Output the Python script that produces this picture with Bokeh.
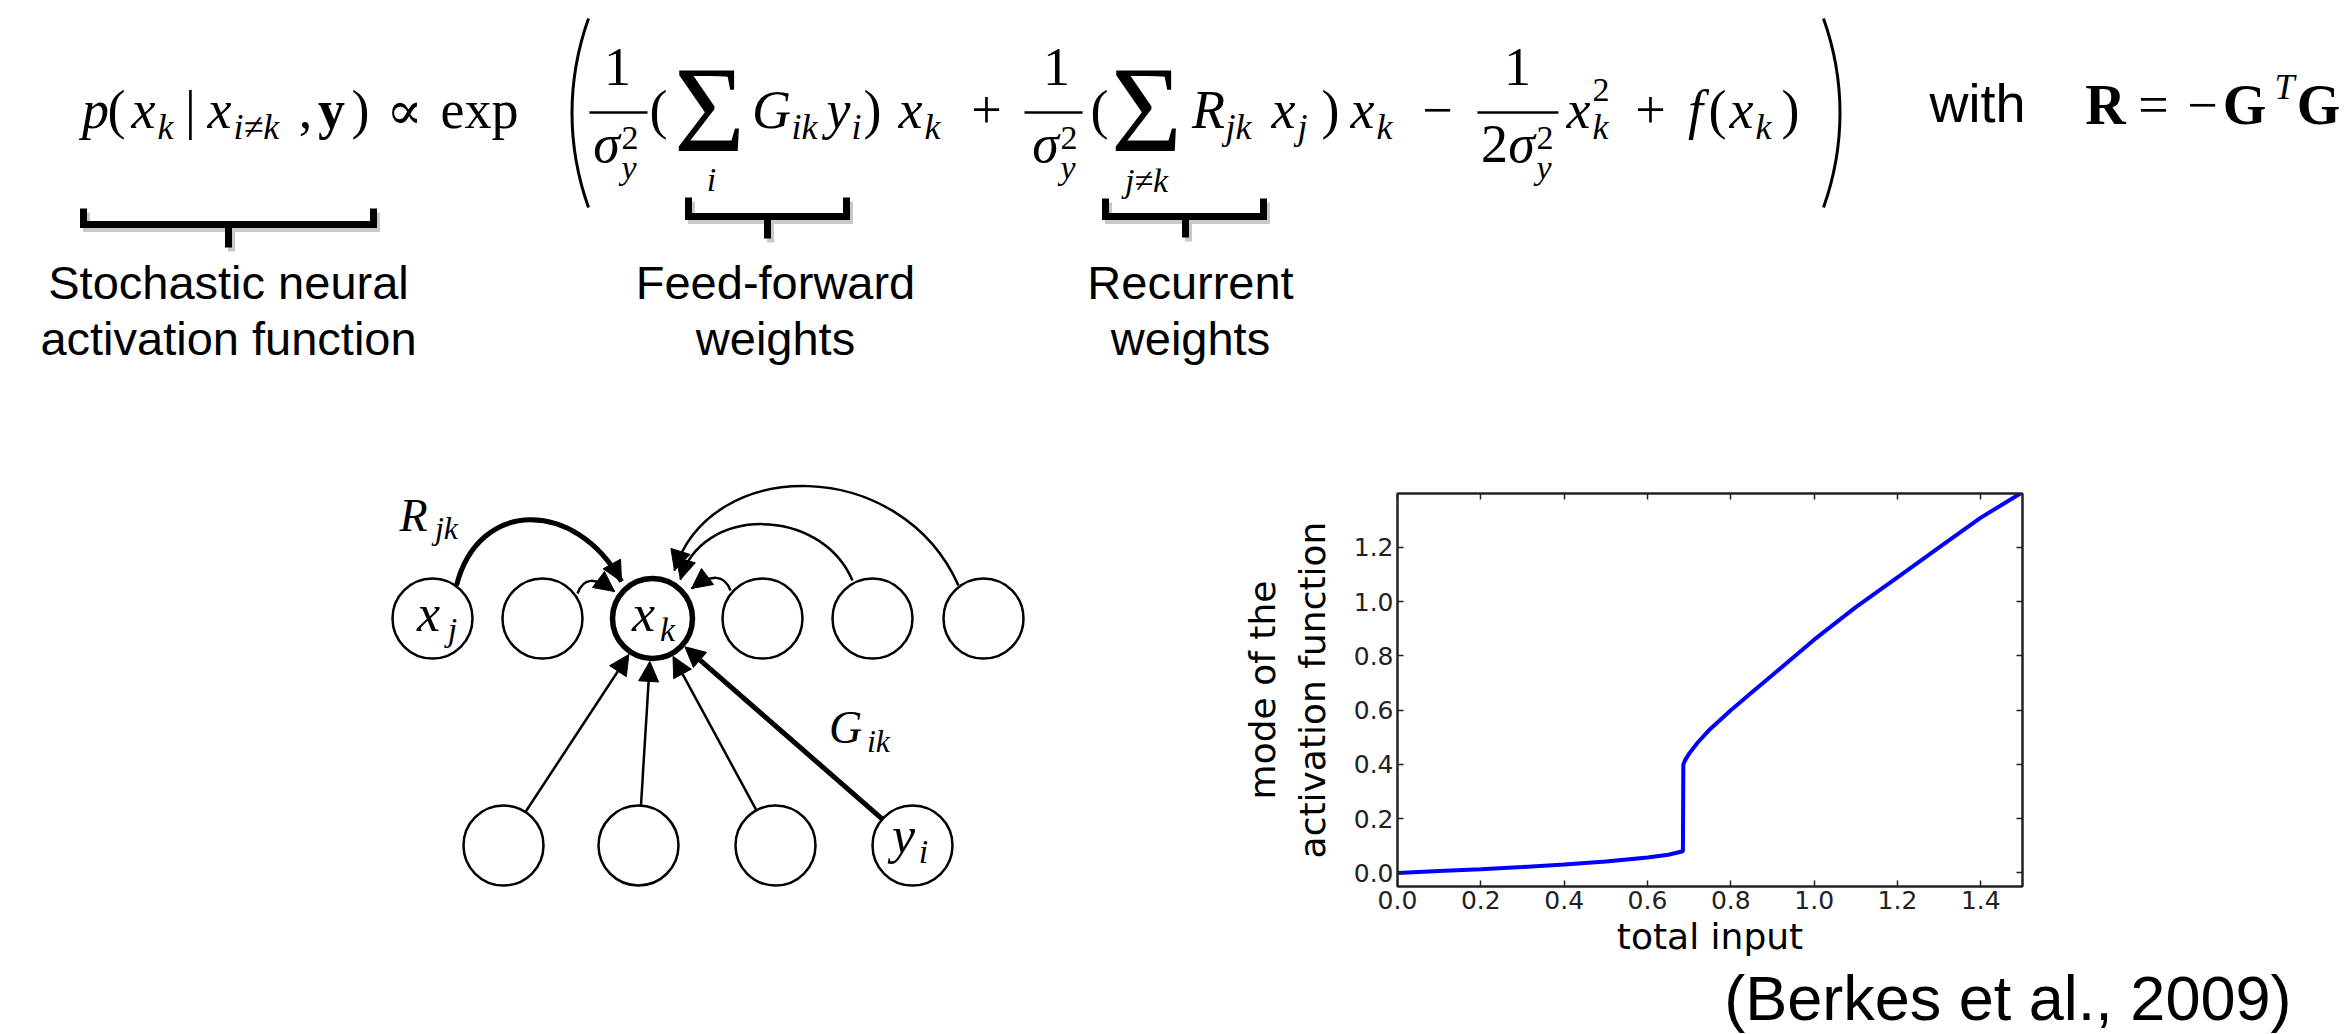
import math
from bokeh.plotting import figure
from bokeh.layouts import column, row
from bokeh.models import (Range1d, ColumnDataSource, Arrow, NormalHead,
                          LinearAxis, FixedTicker, NumeralTickFormatter, CustomJSTickFormatter)
from bokeh.embed import file_html
from bokeh.resources import INLINE

# ---------------- chart data ----------------
total_input = [0.0, 0.1, 0.2, 0.3, 0.4, 0.5, 0.6, 0.65, 0.685, 0.686, 0.69, 0.70,
               0.72, 0.75, 0.80, 0.85, 0.90, 1.00, 1.10, 1.20, 1.30, 1.40, 1.495]
mode_of_activation = [0.0, 0.007, 0.014, 0.022, 0.031, 0.042, 0.057, 0.067, 0.080, 0.40,
                      0.415, 0.44, 0.48, 0.53, 0.60, 0.665, 0.73, 0.86, 0.98, 1.09,
                      1.20, 1.31, 1.399]
x_ticks = [0.0, 0.2, 0.4, 0.6, 0.8, 1.0, 1.2, 1.4]
y_ticks = [0.0, 0.2, 0.4, 0.6, 0.8, 1.0, 1.2, 1.4]
x_label = "total input"
y_label_lines = ["mode of the", "activation function"]
citation = "(Berkes et al., 2009)"
brace_labels = [["Stochastic neural", "activation function"],
                ["Feed-forward", "weights"],
                ["Recurrent", "weights"]]

# ---------------- page layout (pixels) ----------------
PAGE_W, PAGE_H = 2344, 1034
TOP_H = 460
STRIP_H = 64
MID_H = PAGE_H - TOP_H - STRIP_H
LEFT_W = 1100
FRAME_L, FRAME_R, FRAME_T, FRAME_B = 1397, 2022, 493, 886
X_RANGE = (0.0, 1.5)
Y_RANGE = (-0.05, 1.399)

MATH = "Liberation Serif"
SANS = "Liberation Sans"
MID_SHIFT = 0.32   # baseline -> vertical middle of the em box


def base_fig(w, h, x0, x1, y_top, y_bottom):
    f = figure(width=w, height=h, x_range=Range1d(x0, x1), y_range=Range1d(y_bottom, y_top),
               x_axis_type=None, y_axis_type=None, toolbar_location=None,
               output_backend="svg", min_border=0, outline_line_color=None)
    f.frame_align = False
    return f


def tok(t, x, y, size, style="normal", font=MATH, align="center"):
    # y is the alphabetic baseline; converted to the middle of the text
    return dict(text=t, x=x, y=y - MID_SHIFT * size, size=f"{size}px", style=style,
                font=font, align=align)


def sub(t, x, y, size, style="italic"):
    return tok(t, x, y, size, style, MATH, "left")


def draw_tokens(f, toks):
    cols = {k: [t[k] for t in toks] for k in toks[0]}
    src = ColumnDataSource(cols)
    f.text(x="x", y="y", text="text", source=src, text_font="font", text_font_size="size",
           text_font_style="style", text_align="align", text_baseline="middle",
           text_color="black")


# =============== TOP: equation + braces + labels ===============
top = base_fig(PAGE_W, TOP_H, 0, PAGE_W, 0, TOP_H)

S, SUB, SUP = 54, 36, 34
B, SB = 127, 138
NUM = 84          # numerator baseline
SIG, SIG_B = 122, 148   # summation sign size / baseline
eq = [
    tok("p", 95, B, S, "italic"), tok("(", 116, B, S), tok("x", 143, B, S, "italic"),
    sub("k", 157, SB, SUB), tok("|", 190, B, S), tok("x", 219, B, S, "italic"),
    sub("i≠k", 233, SB, SUB), tok(",", 305, B, S), tok("y", 331, B, S, "bold"),
    tok(")", 360, B, S), tok("∝", 404, B, S, "normal", "DejaVu Serif"), tok("exp", 479, B, S),
    # fraction 1
    tok("1", 617, NUM, S), tok("σ", 606, 161, S, "italic"), sub("2", 621, 148, SUP, "normal"),
    sub("y", 621, 178, SUP),
    tok("(", 658, B, S), tok("Σ", 709, SIG_B, SIG), tok("i", 711, 190, SUP, "italic"),
    tok("G", 771, B, S, "italic"), sub("ik", 791, SB, SUB),
    tok("y", 838, B, S, "italic"), sub("i", 851, SB, SUB),
    tok(")", 872, B, S), tok("x", 910, B, S, "italic"), sub("k", 924, SB, SUB),
    tok("+", 986, B, S),
    # fraction 2
    tok("1", 1056, NUM, S), tok("σ", 1045, 161, S, "italic"), sub("2", 1060, 148, SUP, "normal"),
    sub("y", 1060, 178, SUP),
    tok("(", 1099, B, S), tok("Σ", 1146, SIG_B, SIG), tok("j≠k", 1146, 191, SUP, "italic"),
    tok("R", 1208, B, S, "italic"), sub("jk", 1225, SB, SUB),
    tok("x", 1283, B, S, "italic"), sub("j", 1297, SB, SUB),
    tok(")", 1330, B, S), tok("x", 1362, B, S, "italic"), sub("k", 1376, SB, SUB),
    tok("−", 1437, B, S),
    # fraction 3
    tok("1", 1517, NUM, S), tok("2", 1494, 161, S), tok("σ", 1521, 161, S, "italic"),
    sub("2", 1536, 148, SUP, "normal"), sub("y", 1536, 178, SUP),
    tok("x", 1578, B, S, "italic"), sub("2", 1592, 100, SUP, "normal"), sub("k", 1592, SB, SUB),
    tok("+", 1650, B, S), tok("f", 1695, B, S, "italic"), tok("(", 1717, B, S),
    tok("x", 1741, B, S, "italic"), sub("k", 1755, SB, SUB), tok(")", 1790, B, S),
    # with R = -G^T G
    tok("with", 1977, 120, 54, "normal", SANS),
    tok("R", 2105, 122, 56, "bold"), tok("=", 2153, 122, 54), tok("−", 2202, 122, 54),
    tok("G", 2244, 122, 56, "bold"), tok("T", 2284, 98, 36, "italic"),
    tok("G", 2318, 122, 56, "bold"),
]
draw_tokens(top, eq)

# fraction bars
top.segment(x0=[589, 1024, 1477], y0=[112, 112, 112], x1=[647, 1082, 1558], y1=[112, 112, 112],
            line_color="black", line_width=2.5)
# big parentheses
top.bezier(x0=[588, 1823], y0=[18, 18], x1=[588, 1823], y1=[207, 207],
           cx0=[566, 1845], cy0=[80, 80], cx1=[566, 1845], cy1=[145, 145],
           line_color="black", line_width=3)

# braces under the terms: (left, right, top, bar, tick bottom, centre, label centre)
braces = [(83, 373, 208, 224, 247, 228, 228), (688, 846, 197, 216, 238, 767, 775),
          (1105, 1263, 198, 216, 237, 1185, 1190)]
for dx, dy, col in [(3, 4, "#c8c8c8"), (0, 0, "black")]:
    xs, ys = [], []
    for (l, r, t, b, tb, c, lc) in braces:
        xs += [[l + dx, l + dx, r + dx, r + dx], [c + dx, c + dx]]
        ys += [[t + dy, b + dy, b + dy, t + dy], [b + dy, tb + dy]]
    top.multi_line(xs=xs, ys=ys, line_color=col, line_width=7, line_join="miter")

lab = []
for (l, r, t, b, tb, c, lc), (l1, l2) in zip(braces, brace_labels):
    lab.append(tok(l1, lc, 297, 47, "normal", SANS))
    lab.append(tok(l2, lc, 353, 47, "normal", SANS))
draw_tokens(top, lab)

# =============== MIDDLE LEFT: network diagram ===============
diag = base_fig(LEFT_W, MID_H, 0, LEFT_W, TOP_H, TOP_H + MID_H)
R = 40
top_nodes_x = [432, 542, 652, 762, 872, 983]
top_y = 618
bottom_nodes_x = [503, 638, 775, 912]
bottom_y = 845
XK = (652, 618)

# straight feed-forward arrows
for i, bx in enumerate(bottom_nodes_x):
    dx, dy = XK[0] - bx, XK[1] - bottom_y
    d = math.hypot(dx, dy)
    ux, uy = dx / d, dy / d
    diag.add_layout(Arrow(end=NormalHead(size=20, fill_color="black", line_color="black"),
                          x_start=bx + R * ux, y_start=bottom_y + R * uy,
                          x_end=XK[0] - (R + 3) * ux, y_end=XK[1] - (R + 3) * uy,
                          line_color="black", line_width=5 if i == 3 else 2.5))

# curved recurrent arrows: (start, control1, control2, end, width)
curves = [
    ((456, 585), (478, 498), (575, 498), (621, 581), 5),
    ((577, 593), (583, 577), (594, 576), (614, 591), 2.5),
    ((730, 590), (724, 574), (711, 573), (691, 588), 2.5),
    ((852, 580), (820, 505), (700, 505), (680, 579), 2.5),
    ((958, 585), (900, 455), (710, 455), (674, 570), 2.5),
]
for (p0, c0, c1, p1, w) in curves:
    diag.bezier(x0=[p0[0]], y0=[p0[1]], x1=[p1[0]], y1=[p1[1]], cx0=[c0[0]], cy0=[c0[1]],
                cx1=[c1[0]], cy1=[c1[1]], line_color="black", line_width=w)
    tx, ty = p1[0] - c1[0], p1[1] - c1[1]
    d = math.hypot(tx, ty)
    diag.add_layout(Arrow(end=NormalHead(size=20, fill_color="black", line_color="black"),
                          x_start=p1[0] - 3 * tx / d, y_start=p1[1] - 3 * ty / d,
                          x_end=p1[0], y_end=p1[1], line_alpha=0, line_width=1))

# nodes
diag.circle(x=top_nodes_x, y=[top_y] * 6, radius=R, fill_color="white",
            line_color="black", line_width=[2.5, 2.5, 5.5, 2.5, 2.5, 2.5])
diag.circle(x=bottom_nodes_x, y=[bottom_y] * 4, radius=R, fill_color="white",
            line_color="black", line_width=2.5)

node_txt = [
    tok("x", 428, 630, 52, "italic"), tok("j", 452, 640, 34, "italic"),
    tok("x", 643, 630, 52, "italic"), tok("k", 667, 640, 34, "italic"),
    tok("y", 903, 852, 52, "italic"), tok("i", 923, 862, 34, "italic"),
    tok("R", 413, 530, 46, "italic"), tok("jk", 446, 538, 32, "italic"),
    tok("G", 845, 742, 46, "italic"), tok("ik", 878, 751, 32, "italic"),
]
draw_tokens(diag, node_txt)

# =============== MIDDLE RIGHT: activation function chart ===============
ch = figure(width=PAGE_W - LEFT_W, height=MID_H, x_range=Range1d(*X_RANGE),
            y_range=Range1d(*Y_RANGE), output_backend="svg", toolbar_location=None,
            min_border_left=FRAME_L - LEFT_W, min_border_right=PAGE_W - FRAME_R,
            min_border_top=FRAME_T - TOP_H, min_border_bottom=TOP_H + MID_H - FRAME_B)
ch.frame_align = False
ch.add_layout(LinearAxis(), "right")
ch.add_layout(LinearAxis(), "above")
ch.grid.visible = False
ch.outline_line_color = "#222222"
ch.outline_line_width = 2

bottom_ax, left_ax = ch.below[0], ch.left[0]
top_ax, right_ax = ch.above[0], ch.right[0]
bottom_ax.ticker = FixedTicker(ticks=x_ticks)
top_ax.ticker = FixedTicker(ticks=x_ticks)
left_ax.ticker = FixedTicker(ticks=y_ticks)
right_ax.ticker = FixedTicker(ticks=y_ticks)
for ax in (bottom_ax, left_ax, top_ax, right_ax):
    ax.major_tick_in = 6
    ax.major_tick_out = 0
    ax.minor_tick_line_color = None
    ax.axis_line_color = "#222222"
    ax.axis_line_width = 2
    ax.major_tick_line_color = "#222222"
    ax.major_tick_line_width = 1.5
    ax.major_label_text_font = "DejaVu Sans"
    ax.major_label_text_font_size = "25px"
    ax.major_label_text_color = "#222222"
    ax.major_label_standoff = 4
for ax in (bottom_ax, left_ax):
    ax.formatter = NumeralTickFormatter(format="0.0")
for ax in (top_ax, right_ax):
    ax.formatter = CustomJSTickFormatter(code="return ''")

bottom_ax.axis_label = x_label
left_ax.axis_label = y_label_lines[1]
outer_left = LinearAxis(ticker=FixedTicker(ticks=[]), axis_label=y_label_lines[0])
outer_left.axis_line_color = None
outer_left.major_tick_line_color = None
outer_left.minor_tick_line_color = None
outer_left.major_label_standoff = 0
ch.add_layout(outer_left, "left")
for ax in (bottom_ax, left_ax, outer_left):
    ax.axis_label_text_font = "DejaVu Sans"
    ax.axis_label_text_font_size = "36px"
    ax.axis_label_text_font_style = "normal"
    ax.axis_label_text_color = "black"
bottom_ax.axis_label_standoff = 4
left_ax.axis_label_standoff = 18
outer_left.axis_label_standoff = 6

ch.line(total_input, mode_of_activation, line_color="#0000ff", line_width=4)

# =============== BOTTOM STRIP: citation ===============
strip = base_fig(PAGE_W, STRIP_H, 0, PAGE_W, PAGE_H - STRIP_H, PAGE_H)
draw_tokens(strip, [tok(citation, 2291, 1018, 63, "normal", SANS, "right")])

layout = column(top, row(diag, ch, spacing=0), strip, spacing=0)
open("out.html", "w").write(file_html(layout, INLINE))
